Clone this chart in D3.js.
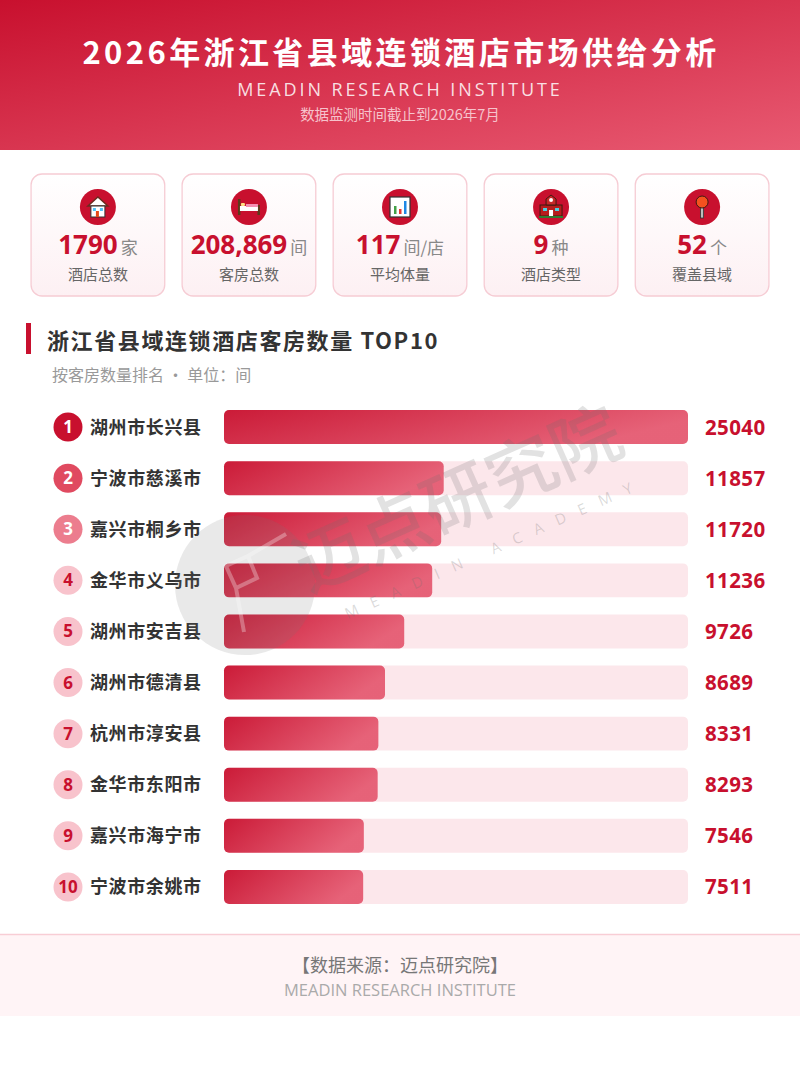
<!DOCTYPE html>
<html>
<head>
<meta charset="utf-8">
<title>2026年浙江省县域连锁酒店市场供给分析</title>
<script src="https://d3js.org/d3.v7.min.js"></script>
<style>
    body { margin: 0; background: #fff; }
    svg { display: block; font-family: "Noto Sans CJK SC", "Noto Sans", sans-serif; }
</style>
</head>
<body>
<svg width="800" height="1066"></svg>
<script>
    // data
    var cities = ["湖州市长兴县", "宁波市慈溪市", "嘉兴市桐乡市", "金华市义乌市", "湖州市安吉县",
                  "湖州市德清县", "杭州市淳安县", "金华市东阳市", "嘉兴市海宁市", "宁波市余姚市"];
    var rooms = [25040, 11857, 11720, 11236, 9726, 8689, 8331, 8293, 7546, 7511];
    var kpiValues = ["1790", "208,869", "117", "9", "52"];
    var kpiUnits = ["家", "间", "间/店", "种", "个"];
    var kpiLabels = ["酒店总数", "客房总数", "平均体量", "酒店类型", "覆盖县域"];

    var red = "#c8102e";
    var svg = d3.select("svg");
    var defs = svg.append("defs");

    var hg = defs.append("linearGradient").attr("id", "hdr")
        .attr("x1", "0%").attr("y1", "0%").attr("x2", "100%").attr("y2", "100%");
    hg.append("stop").attr("offset", "0%").attr("stop-color", "#c8102e");
    hg.append("stop").attr("offset", "100%").attr("stop-color", "#e85a72");

    var bg = defs.append("linearGradient").attr("id", "bar")
        .attr("x1", "0%").attr("y1", "0%").attr("x2", "100%").attr("y2", "30%");
    bg.append("stop").attr("offset", "0%").attr("stop-color", "#c8102e");
    bg.append("stop").attr("offset", "100%").attr("stop-color", "#e55b72");

    var cg = defs.append("linearGradient").attr("id", "card")
        .attr("x1", "0%").attr("y1", "0%").attr("x2", "0%").attr("y2", "100%");
    cg.append("stop").attr("offset", "0%").attr("stop-color", "#ffffff");
    cg.append("stop").attr("offset", "100%").attr("stop-color", "#fdf0f3");

    // header
    svg.append("rect").attr("width", 800).attr("height", 150).attr("fill", "url(#hdr)");
    svg.append("text").attr("x", 401).attr("y", 64).attr("text-anchor", "middle")
        .attr("fill", "#fff").attr("font-size", 31).attr("font-weight", 700)
        .attr("letter-spacing", 3.4).text("2026年浙江省县域连锁酒店市场供给分析");
    svg.append("text").attr("x", 400).attr("y", 96).attr("text-anchor", "middle")
        .attr("fill", "#fff").attr("fill-opacity", 0.85).attr("font-size", 18)
        .attr("letter-spacing", 2.9).attr("font-family", "'Open Sans', sans-serif")
        .text("MEADIN RESEARCH INSTITUTE");
    svg.append("text").attr("x", 400).attr("y", 120).attr("text-anchor", "middle")
        .attr("fill", "#f6c3cc").attr("font-size", 14.5)
        .text("数据监测时间截止到2026年7月");

    // kpi cards
    var cx = d3.scaleBand().domain(d3.range(5)).range([22, 778]).paddingInner(0.115).paddingOuter(0.06);
    var cards = svg.selectAll(".card").data(kpiValues).enter().append("g")
        .attr("class", "card")
        .attr("transform", function(d, i) { return "translate(" + cx(i) + ",174)"; });
    cards.append("rect").attr("width", cx.bandwidth()).attr("height", 122)
        .attr("rx", 11).attr("fill", "url(#card)").attr("stroke", "#f6ccd4").attr("stroke-width", 1.3);
    cards.append("circle").attr("cx", cx.bandwidth() / 2).attr("cy", 33).attr("r", 18).attr("fill", red);

    var vt = cards.append("text").attr("x", cx.bandwidth() / 2).attr("y", 80).attr("text-anchor", "middle");
    vt.append("tspan").attr("fill", red).attr("font-size", 26).attr("font-weight", 700)
        .attr("font-family", "'Open Sans', sans-serif").text(function(d) { return d; });
    vt.append("tspan").attr("fill", "#888").attr("font-size", 17).attr("dx", 3)
        .text(function(d, i) { return kpiUnits[i]; });
    cards.append("text").attr("x", cx.bandwidth() / 2).attr("y", 106).attr("text-anchor", "middle")
        .attr("fill", "#666").attr("font-size", 15).text(function(d, i) { return kpiLabels[i]; });

    // icons
    function icon(i, f) {
        var g = svg.append("g").attr("transform", "translate(" + (cx(i) + cx.bandwidth() / 2) + ",207)");
        f(g);
    }
    icon(0, function(g) {
        g.append("path").attr("d", "M-10,-1 L0,-10 L10,-1 Z").attr("fill", "#fff").attr("stroke", "#6b2b1e").attr("stroke-width", 1.5);
        g.append("rect").attr("x", -7).attr("y", -1).attr("width", 14).attr("height", 11).attr("fill", "#fff").attr("stroke", "#333").attr("stroke-width", 1);
        g.append("rect").attr("x", -5).attr("y", 1).attr("width", 3).attr("height", 3).attr("fill", "#4fc3f7");
        g.append("rect").attr("x", 2).attr("y", 1).attr("width", 3).attr("height", 3).attr("fill", "#4fc3f7");
        g.append("rect").attr("x", -2).attr("y", 4).attr("width", 3).attr("height", 6).attr("fill", "#e64a19");
    });
    icon(1, function(g) {
        g.append("rect").attr("x", -11).attr("y", -8).attr("width", 2.5).attr("height", 16).attr("fill", "#5d3a1a");
        g.append("rect").attr("x", 8.5).attr("y", -2).attr("width", 2.5).attr("height", 10).attr("fill", "#5d3a1a");
        g.append("rect").attr("x", -9).attr("y", -1).attr("width", 18).attr("height", 5).attr("fill", "#fff");
        g.append("rect").attr("x", -3).attr("y", -3).attr("width", 12).attr("height", 3).attr("fill", "#f48fb1");
        g.append("rect").attr("x", -8).attr("y", -4).attr("width", 4).attr("height", 3).attr("rx", 1).attr("fill", "#ffe082");
    });
    icon(2, function(g) {
        g.append("rect").attr("x", -10).attr("y", -10).attr("width", 20).attr("height", 20).attr("fill", "#fff").attr("stroke", "#333").attr("stroke-width", 1.2);
        g.append("rect").attr("x", -6).attr("y", -1).attr("width", 2.5).attr("height", 8).attr("fill", "#43a047");
        g.append("rect").attr("x", -1).attr("y", 2).attr("width", 2.5).attr("height", 5).attr("fill", "#e53935");
        g.append("rect").attr("x", 4).attr("y", -6).attr("width", 2.5).attr("height", 13).attr("fill", "#1e88e5");
    });
    icon(3, function(g) {
        g.append("rect").attr("x", -11).attr("y", -2).attr("width", 22).attr("height", 11).attr("fill", "#b71c1c").attr("stroke", "#3e1a10").attr("stroke-width", 1);
        g.append("path").attr("d", "M-5,-2 L-5,-8 L0,-12 L5,-8 L5,-2 Z").attr("fill", "#c62828").attr("stroke", "#3e1a10").attr("stroke-width", 1);
        g.append("circle").attr("cx", 0).attr("cy", -7).attr("r", 2).attr("fill", "#fff");
        g.append("rect").attr("x", -8).attr("y", 1).attr("width", 4).attr("height", 3).attr("fill", "#4dd0e1");
        g.append("rect").attr("x", 4).attr("y", 1).attr("width", 4).attr("height", 3).attr("fill", "#4dd0e1");
        g.append("rect").attr("x", -2).attr("y", 3).attr("width", 4).attr("height", 6).attr("fill", "#fff");
        g.append("rect").attr("x", -12).attr("y", 9).attr("width", 24).attr("height", 2).attr("fill", "#2e7d32");
    });
    icon(4, function(g) {
        g.append("rect").attr("x", -1.5).attr("y", -2).attr("width", 3).attr("height", 13).attr("fill", "#bdbdbd").attr("stroke", "#333").attr("stroke-width", 0.8);
        g.append("circle").attr("cx", 0).attr("cy", -5).attr("r", 6).attr("fill", "#f4511e").attr("stroke", "#3e1a10").attr("stroke-width", 1);
    });

    // section title
    svg.append("rect").attr("x", 26).attr("y", 323).attr("width", 5).attr("height", 31).attr("fill", red);
    svg.append("text").attr("x", 47).attr("y", 349).attr("fill", "#333").attr("font-size", 22)
        .attr("font-weight", 700).attr("letter-spacing", 1.6).text("浙江省县域连锁酒店客房数量 TOP10");
    svg.append("text").attr("x", 52).attr("y", 381).attr("fill", "#999").attr("font-size", 16)
        .text("按客房数量排名 · 单位：间");

    // bar chart
    var x = d3.scaleLinear().domain([0, d3.max(rooms)]).range([0, 464]);
    var y = d3.scaleBand().domain(cities).range([393, 921]).paddingInner(0.335).paddingOuter(0.335);
    var x0 = 224;

    var rows = svg.append("g").selectAll(".row").data(cities).enter().append("g").attr("class", "row");

    rows.append("rect").attr("x", x0).attr("y", function(d) { return y(d); })
        .attr("width", x.range()[1]).attr("height", y.bandwidth()).attr("rx", 5)
        .attr("fill", "#fbe3e7").attr("fill-opacity", 0.85);
    rows.append("rect").attr("x", x0).attr("y", function(d) { return y(d); })
        .attr("width", function(d, i) { return x(rooms[i]); }).attr("height", y.bandwidth()).attr("rx", 5)
        .attr("fill", "url(#bar)").attr("fill-opacity", 0.95);

    var rankFill = function(i) { return i === 0 ? "#c8102e" : i === 1 ? "#e04a60" : i === 2 ? "#ec7d8e" : "#f8c3cc"; };
    rows.append("circle").attr("cx", 68).attr("cy", function(d) { return y(d) + y.bandwidth() / 2; })
        .attr("r", 14.5).attr("fill", function(d, i) { return rankFill(i); });
    rows.append("text").attr("x", 68).attr("y", function(d) { return y(d) + y.bandwidth() / 2 + 6; })
        .attr("text-anchor", "middle").attr("font-size", 17).attr("font-weight", 700)
        .attr("font-family", "'Open Sans', sans-serif")
        .attr("fill", function(d, i) { return i < 3 ? "#fff" : red; })
        .text(function(d, i) { return i + 1; });
    rows.append("text").attr("x", 90).attr("y", function(d) { return y(d) + y.bandwidth() / 2 + 6.5; })
        .attr("font-size", 18).attr("font-weight", 700).attr("fill", "#333").attr("letter-spacing", 0.6)
        .text(function(d) { return d; });
    rows.append("text").attr("x", 705).attr("y", function(d) { return y(d) + y.bandwidth() / 2 + 7.5; })
        .attr("font-size", 20.5).attr("font-weight", 700).attr("fill", red).attr("letter-spacing", 0.4)
        .attr("font-family", "'Open Sans', sans-serif")
        .text(function(d, i) { return rooms[i]; });

    // watermark (over the bars, translucent)
    var wm = svg.append("g");
    wm.append("circle").attr("cx", 245).attr("cy", 585).attr("r", 70).attr("fill", "rgba(120,120,120,0.16)");
    wm.append("path")
        .attr("d", "M226,566 L248,556 L257,578 L236,588 Z M236,588 L244,632 M248,556 L286,534")
        .attr("fill", "none").attr("stroke", "rgba(255,255,255,0.3)").attr("stroke-width", 4);
    var wt = wm.append("g").attr("transform", "translate(468,522) rotate(-24)");
    wt.append("text").attr("text-anchor", "middle").attr("font-size", 70).attr("font-weight", 500)
        .attr("fill", "rgba(110,110,110,0.2)").text("迈点研究院");
    wt.append("text").attr("y", 40).attr("x", 14).attr("text-anchor", "middle").attr("font-size", 15)
        .attr("letter-spacing", 14).attr("fill", "rgba(110,110,110,0.25)")
        .attr("font-family", "'Open Sans', sans-serif").text("MEADIN ACADEMY");

    // footer
    svg.append("rect").attr("x", 0).attr("y", 934).attr("width", 800).attr("height", 82).attr("fill", "#fff4f6");
    svg.append("line").attr("x1", 0).attr("x2", 800).attr("y1", 934.5).attr("y2", 934.5)
        .attr("stroke", "#f8cdd5").attr("stroke-width", 1.5);
    svg.append("text").attr("x", 400).attr("y", 972).attr("text-anchor", "middle")
        .attr("fill", "#777").attr("font-size", 18).text("【数据来源：迈点研究院】");
    svg.append("text").attr("x", 400).attr("y", 996).attr("text-anchor", "middle")
        .attr("fill", "#aaa").attr("font-size", 16.5).attr("font-family", "'Open Sans', sans-serif")
        .text("MEADIN RESEARCH INSTITUTE");
</script>
</body>
</html>
